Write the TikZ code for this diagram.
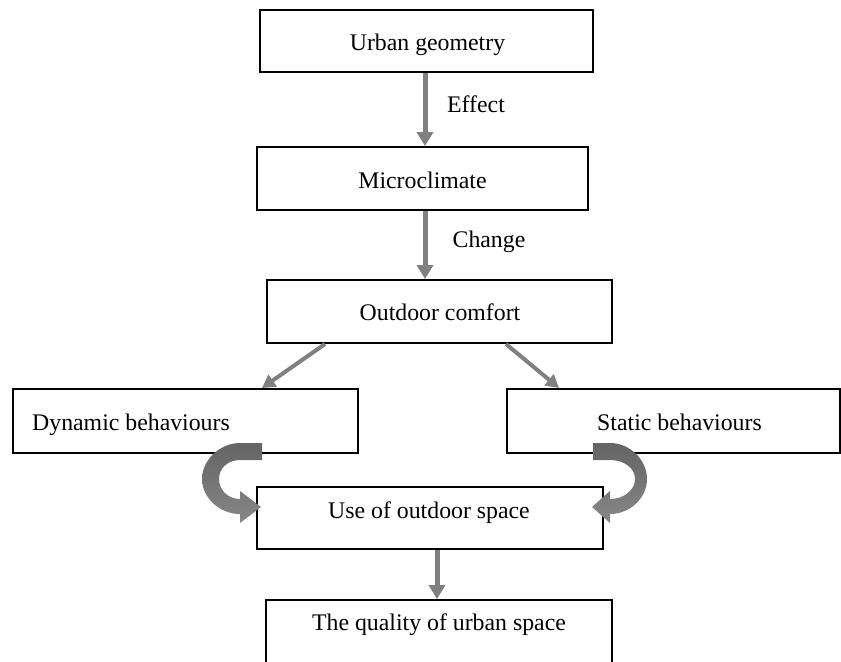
\documentclass[tikz,border=0pt]{standalone}
\usepackage{fontspec}
\setmainfont{Liberation Serif}
\usetikzlibrary{arrows.meta}
\definecolor{arrgray}{RGB}{128,128,128}
\definecolor{curvtop}{RGB}{100,100,100}
\definecolor{curvbot}{RGB}{135,135,135}
\tikzset{
  boxnode/.style={draw=black, line width=1pt, rectangle, inner sep=0pt},
  txt/.style={inner sep=0pt, anchor=base, font=\fontsize{11.9}{14}\selectfont},
  garrow/.style={draw=arrgray, line width=2.5pt, -{Triangle[width=8pt,length=7pt]}},
  darrow/.style={draw=arrgray, line width=2pt, -{Triangle[width=7pt,length=6.5pt]}},
  curvarrow/.style={top color=curvtop, bottom color=curvbot, draw=none}
}
\begin{document}
\begin{tikzpicture}[x=0.5pt,y=-0.5pt]
\useasboundingbox (0,0) rectangle (841,661);
\clip (0,0) rectangle (841,661);
\fill[white] (0,0) rectangle (841,661);

% boxes
\node[boxnode, minimum width=166.5pt, minimum height=31pt] (b1) at (426.5,41) {};
\node[boxnode, minimum width=165.5pt, minimum height=31.5pt] (b2) at (422.5,178.5) {};
\node[boxnode, minimum width=172.5pt, minimum height=31.5pt] (b3) at (439.5,311.5) {};
\node[boxnode, minimum width=172.5pt, minimum height=32pt] (b4) at (185.5,421) {};
\node[boxnode, minimum width=166.5pt, minimum height=32pt] (b5) at (673.5,421) {};
\node[boxnode, minimum width=173pt, minimum height=31pt] (b6) at (430,518) {};
\node[boxnode, minimum width=173pt, minimum height=60pt] (b7) at (439,660) {};

% texts
\node[txt] (t1) at (427.5,50) {Urban geometry};
\node[txt] (t2) at (422.5,188) {Microclimate};
\node[txt] (t3) at (440,320) {Outdoor comfort};
\node[txt] (t4) at (131,430) {Dynamic behaviours};
\node[txt] (t5) at (679.5,430) {Static behaviours};
\node[txt] (t6) at (429,518) {Use of outdoor space};
\node[txt] (t7) at (439,630) {The quality of urban space};
\node[txt] (l1) at (476,112) {Effect};
\node[txt] (l2) at (489,247) {Change};

% straight arrows
\draw[garrow] ([xshift=-0.75pt]b1.south) -- ([xshift=-0.75pt]b1.south |- b2.north);
\draw[garrow] ([xshift=1.25pt]b2.south) -- ([xshift=1.25pt]b2.south |- b3.north);
\draw[garrow] ([xshift=-1pt]b7.north |- b6.south) -- ([xshift=-1pt]b7.north);
\draw[darrow] ([xshift=29.5pt]b3.south west) -- ([xshift=125pt]b4.north west);
\draw[darrow] ([xshift=120pt]b3.south west) -- ([xshift=26.5pt]b5.north west);

% curved arrows
\path[curvarrow] (262,443) -- (240,443)
  .. controls (220,443) and (202,460) .. (202,479)
  .. controls (202,498) and (220,514) .. (240,514)
  -- (240,523) -- (261,507) -- (240,491) -- (240,499)
  .. controls (228,499) and (219,490) .. (219,479)
  .. controls (219,468) and (228,460) .. (240,460)
  -- (262,460) -- cycle;
\path[curvarrow] (593,443) -- (610,443)
  .. controls (630,443) and (647,460) .. (647,479)
  .. controls (647,498) and (630,514) .. (610,514)
  -- (610,523) -- (592,507) -- (610,491) -- (610,499)
  .. controls (624,499) and (635,490) .. (635,479)
  .. controls (635,468) and (624,460) .. (610,460)
  -- (593,460) -- cycle;
\end{tikzpicture}
\end{document}
